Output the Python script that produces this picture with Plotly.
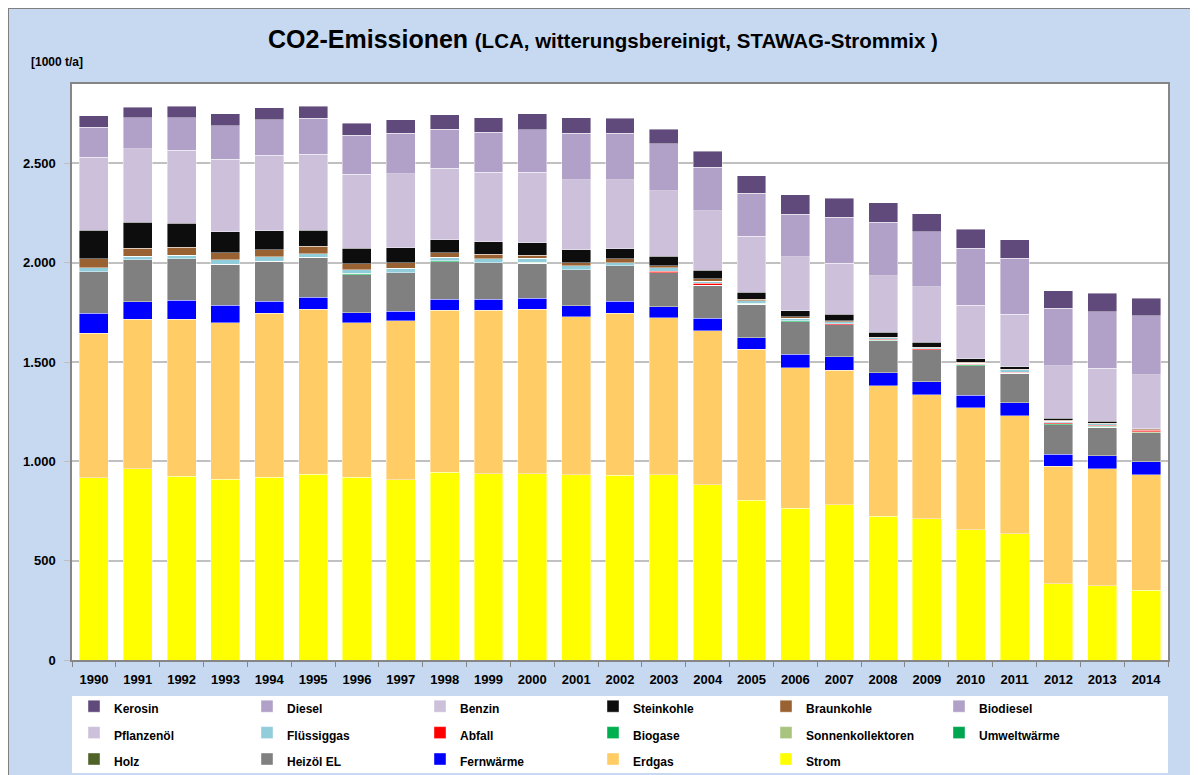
import plotly.graph_objects as go

years = [str(y) for y in range(1990, 2015)]

strom = [918, 962, 925, 911, 921, 936, 921, 908, 945, 938, 938, 933, 930, 933, 883, 805, 765, 782, 725, 710, 655, 635, 385, 375, 350]
erdgas = [727, 754, 791, 788, 825, 830, 778, 799, 817, 824, 829, 796, 816, 791, 774, 760, 707, 677, 655, 625, 616, 596, 590, 588, 582]
fernwaerme = [101, 88, 96, 88, 61, 60, 50, 50, 54, 54, 54, 55, 61, 55, 64, 58, 68, 69, 67, 67, 61, 64, 62, 66, 65]
heizoel = [209, 211, 207, 205, 200, 201, 191, 193, 189, 184, 177, 181, 178, 171, 167, 168, 163, 159, 160, 159, 150, 149, 147, 144, 146]
holz = [0] * 25
umweltwaerme = [0] * 25
sonnenkollektoren = [0, 0, 0, 0, 0, 0, 0, 0, 0, 0, 0, 0, 0, 0, 0, 0, 0, 0, 0, 0, 0, 0, 0, 0, 5]
biogase = [0, 0, 0, 0, 0, 0, 6, 0, 6, 0, 4, 0, 0, 0, 0, 5, 5, 0, 4, 0, 4, 3, 5, 5, 0]
abfall = [0, 0, 0, 0, 0, 0, 0, 0, 0, 0, 0, 0, 0, 8, 8, 0, 0, 6, 5, 6, 4, 3, 6, 5, 8]
fluessiggas = [20, 19, 20, 22, 23, 18, 18, 22, 17, 19, 20, 20, 15, 17, 12, 12, 12, 10, 6, 5, 5, 11, 6, 7, 3]
pflanzenoel = [0] * 25
biodiesel = [0] * 25
braunkohle = [44, 40, 38, 36, 35, 39, 32, 28, 22, 23, 17, 15, 19, 11, 12, 8, 9, 6, 3, 3, 4, 3, 5, 3, 5]
steinkohle = [145, 129, 121, 106, 96, 80, 78, 75, 65, 64, 63, 65, 51, 47, 43, 35, 30, 32, 25, 25, 17, 13, 12, 8, 0]
benzin = [366, 370, 368, 365, 380, 382, 371, 374, 362, 350, 354, 354, 349, 330, 298, 283, 271, 256, 285, 279, 271, 264, 264, 268, 272]
diesel = [153, 158, 165, 169, 179, 181, 196, 204, 196, 201, 214, 234, 234, 235, 221, 215, 213, 231, 268, 277, 285, 281, 289, 285, 296]
kerosin = [58, 53, 56, 61, 61, 62, 61, 67, 72, 74, 81, 78, 74, 75, 79, 90, 99, 97, 98, 92, 96, 95, 88, 92, 89]

# bottom -> top
series = [
    ("Strom", strom, "#FFFF00"),
    ("Erdgas", erdgas, "#FFCC66"),
    ("Fernwärme", fernwaerme, "#0000FF"),
    ("Heizöl EL", heizoel, "#808080"),
    ("Holz", holz, "#4F6228"),
    ("Umweltwärme", umweltwaerme, "#00A550"),
    ("Sonnenkollektoren", sonnenkollektoren, "#A9C47F"),
    ("Biogase", biogase, "#00B050"),
    ("Abfall", abfall, "#FF0000"),
    ("Flüssiggas", fluessiggas, "#92CDDC"),
    ("Pflanzenöl", pflanzenoel, "#CCC0DA"),
    ("Biodiesel", biodiesel, "#B1A0C7"),
    ("Braunkohle", braunkohle, "#9A6233"),
    ("Steinkohle", steinkohle, "#0D0D0D"),
    ("Benzin", benzin, "#CCC0DA"),
    ("Diesel", diesel, "#B1A0C7"),
    ("Kerosin", kerosin, "#604A7B"),
]

FONT = "Liberation Sans, Arial, sans-serif"

fig = go.Figure()
for name, vals, col in series:
    fig.add_trace(go.Bar(
        x=years, y=vals,
        name="<span style='font-size:12px'>" + name + "</span>",
        marker=dict(color=col, line=dict(color="rgba(255,255,255,0.7)", width=0.6)),
    ))

W, H = 1190, 767
L, R, T, B = 64, 30, 76, 115
pw = W - L - R
ph = H - T - B

def px_x(p):
    return (p - L) / pw

def px_y(p):
    return (H - B - p) / ph

fig.update_layout(
    width=W, height=H,
    barmode="stack", bargap=0.34,
    margin=dict(l=L, r=R, t=T, b=B, autoexpand=False),
    paper_bgcolor="#C6D9F1",
    plot_bgcolor="white",
    separators=",.",
    font=dict(family=FONT, color="black"),
    title=dict(
        text="<b><span style='font-size:25px'>CO2-Emissionen</span> <span style='font-size:20.5px'>(LCA, witterungsbereinigt, STAWAG-Strommix )</span></b>",
        x=0.5, xanchor="center", y=1 - 32 / H, yanchor="middle",
        font=dict(family=FONT, size=24, color="black"),
    ),
    xaxis=dict(
        type="category", range=[-0.5, 24.5],
        showline=True, linecolor="#868686", linewidth=1.5, mirror=True,
        ticks="outside", tickson="boundaries", ticklen=5, tickcolor="#868686",
        tickfont=dict(family=FONT, size=13, weight="bold"),
        ticklabelstandoff=7,
        showgrid=False,
    ),
    yaxis=dict(
        range=[0, 2900], dtick=500, tickformat=",d",
        showline=True, linecolor="#868686", linewidth=1.5, mirror=True,
        ticks="outside", ticklen=6, tickcolor="#BFBFBF",
        showgrid=True, gridcolor="#C0C0C0", gridwidth=1.5,
        tickfont=dict(family=FONT, size=13, weight="bold"),
        ticklabelstandoff=6,
        zeroline=False,
    ),
    legend=dict(
        orientation="h", traceorder="reversed",
        x=px_x(66), xanchor="left", y=px_y(680), yanchor="top",
        bgcolor="rgba(0,0,0,0)",
        font=dict(family=FONT, size=18, weight="bold"),
        entrywidth=128, entrywidthmode="pixels",
        itemclick=False, itemdoubleclick=False,
    ),
    shapes=[
        dict(type="rect", xref="paper", yref="paper", layer="below",
             x0=px_x(0), x1=px_x(W + 10), y0=px_y(H + 10), y1=px_y(0),
             fillcolor="rgba(0,0,0,0)", line=dict(color="#7F7F7F", width=2)),
        dict(type="rect", xref="paper", yref="paper", layer="below",
             x0=px_x(64), x1=px_x(1160), y0=px_y(765), y1=px_y(688),
             fillcolor="white", line=dict(width=0)),
    ],
    annotations=[
        dict(text="<b>[1000 t/a]</b>", xref="paper", yref="paper",
             x=px_x(21), y=px_y(54), xanchor="left", yanchor="middle",
             showarrow=False, font=dict(family=FONT, size=12, color="black")),
    ],
)

fig.write_html("out.html")
